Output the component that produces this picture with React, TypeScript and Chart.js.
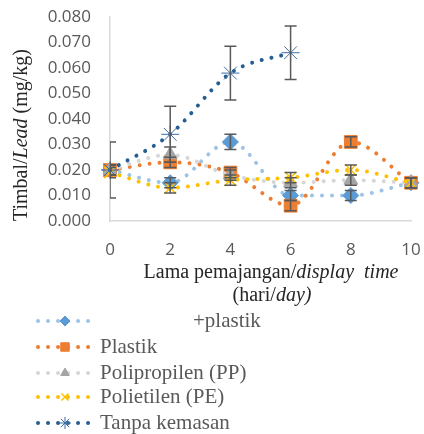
import React, { useEffect, useRef } from 'react';
import { Chart, registerables } from 'chart.js';
import * as helpers from 'chart.js/helpers';

Chart.register(...registerables);

// ---- data ----
const days = [0, 2, 4, 6, 8, 10];
const seriesNames = ['+plastik', 'Plastik', 'Polipropilen (PP)', 'Polietilen (PE)', 'Tanpa kemasan'];
const plastikPlus = [0.020, 0.015, 0.031, 0.010, 0.010, 0.015];
const plastik = [0.020, 0.023, 0.019, 0.006, 0.031, 0.015];
const polipropilen = [0.020, 0.026, 0.018, 0.015, 0.016, 0.015];
const polietilen = [0.019, 0.013, 0.016, 0.017, 0.020, 0.015];
const tanpaKemasan = [0.020, 0.034, 0.058, 0.066];
const plastikPlusErr = [0.002, 0.002, 0.003, 0.002, 0.002, 0.002];
const plastikErr = [0.002, 0.002, 0.002, 0.002, 0.002, 0.002];
const polipropilenErr = [0.002, 0.003, 0.002, 0.002, 0.002, 0.002];
const polietilenErr = [0.002, 0.002, 0.002, 0.002, 0.002, 0.002];
const tanpaKemasanErr = [0.011, 0.011, 0.0105, 0.0105];
const yTitle: [string, boolean][] = [['Timbal/', false], ['Lead', true], [' (mg/kg)', false]];
const xTitle1: [string, boolean][] = [['Lama pemajangan/', false], ['display  time', true]];
const xTitle2: [string, boolean][] = [['(hari/', false], ['day)', true]];

const values = [plastikPlus, plastik, polipropilen, polietilen, tanpaKemasan];
const errors = [plastikPlusErr, plastikErr, polipropilenErr, polietilenErr, tanpaKemasanErr];

const styles = [
  { line: '#9DC3E6', fill: '#5B9BD5', border: '#5B9BD5', point: 'rectRot', r: 8, bw: 1 },
  { line: '#ED7D31', fill: '#ED7D31', border: '#ED7D31', point: 'rect', r: 9, bw: 1 },
  { line: '#D6D6D6', fill: '#A5A5A5', border: '#A5A5A5', point: 'triangle', r: 8, bw: 1 },
  { line: '#FFC000', fill: 'rgba(0,0,0,0)', border: '#FFC000', point: 'crossRot', r: 8, bw: 1.5 },
  { line: '#255E91', fill: 'rgba(0,0,0,0)', border: '#3B6EA5', point: 'star', r: 9, bw: 1 },
];

const SERIF = '"Liberation Serif", "Times New Roman", serif';
const SANS = '"Open Sans", "Liberation Sans", sans-serif';

function drawRich(ctx: CanvasRenderingContext2D, segs: [string, boolean][], cx: number, cy: number, size: number, color: string) {
  ctx.save();
  ctx.textBaseline = 'middle';
  ctx.textAlign = 'left';
  ctx.fillStyle = color;
  let total = 0;
  const widths = segs.map(([t, it]) => {
    ctx.font = `${it ? 'italic ' : ''}${size}px ${SERIF}`;
    const w = ctx.measureText(t).width;
    total += w;
    return w;
  });
  let x = cx - total / 2;
  segs.forEach(([t, it], i) => {
    ctx.font = `${it ? 'italic ' : ''}${size}px ${SERIF}`;
    ctx.fillText(t, x, cy);
    x += widths[i];
  });
  ctx.restore();
}

const decorPlugin = {
  id: 'decor',
  afterDatasetsDraw(chart: any) {
    const ctx: CanvasRenderingContext2D = chart.ctx;
    const ys = chart.scales.y;
    const area = chart.chartArea;
    ctx.save();
    ctx.beginPath();
    ctx.rect(area.left, 0, area.right - area.left + 20, chart.height);
    ctx.clip();
    ctx.strokeStyle = '#595959';
    ctx.lineWidth = 1.5;
    errors.forEach((errs, i) => {
      const meta = chart.getDatasetMeta(i);
      errs.forEach((e, j) => {
        const el = meta.data[j];
        if (!el) return;
        const v = values[i][j];
        const x = el.x;
        const y1 = ys.getPixelForValue(v + e);
        const y2 = ys.getPixelForValue(v - e);
        ctx.beginPath();
        ctx.moveTo(x, y1);
        ctx.lineTo(x, y2);
        ctx.moveTo(x - 6, y1);
        ctx.lineTo(x + 6, y1);
        ctx.moveTo(x - 6, y2);
        ctx.lineTo(x + 6, y2);
        ctx.stroke();
      });
    });
    ctx.restore();
  },
  afterDraw(chart: any) {
    const ctx: CanvasRenderingContext2D = chart.ctx;
    // Y title
    ctx.save();
    ctx.translate(22, 135);
    ctx.rotate(-Math.PI / 2);
    drawRich(ctx, yTitle, 0, 0, 20, '#262626');
    ctx.restore();
    // X title
    drawRich(ctx, xTitle1, 271, 273, 20, '#262626');
    drawRich(ctx, xTitle2, 272, 296, 20, '#262626');
    // legend
    const rows = [321, 347, 373, 397, 423];
    seriesNames.forEach((name, i) => {
      const y = rows[i];
      const s = styles[i];
      ctx.save();
      ctx.strokeStyle = s.line;
      ctx.lineWidth = 4;
      ctx.lineCap = 'round';
      ctx.setLineDash([0.01, 10]);
      ctx.beginPath();
      ctx.moveTo(38, y);
      ctx.lineTo(92, y);
      ctx.stroke();
      ctx.restore();
      ctx.save();
      ctx.fillStyle = s.fill;
      ctx.strokeStyle = s.border;
      ctx.lineWidth = s.bw;
      helpers.drawPoint(ctx, { pointStyle: s.point as any, radius: s.r - 3, rotation: 0, borderWidth: s.bw }, 65, y);
      ctx.restore();
      ctx.save();
      ctx.font = `21px ${SERIF}`;
      ctx.fillStyle = '#595959';
      ctx.textBaseline = 'middle';
      ctx.fillText(name, i === 0 ? 193 : 100, y);
      ctx.restore();
    });
  },
};

export default function App() {
  const ref = useRef<HTMLCanvasElement>(null);
  useEffect(() => {
    if (!ref.current) return;
    const datasets = values.map((vals, i) => {
      const s = styles[i];
      return {
        label: seriesNames[i],
        data: vals.map((v, j) => ({ x: days[j], y: v })),
        borderColor: s.line,
        borderWidth: 4,
        borderDash: [0.01, 10],
        borderCapStyle: 'round' as const,
        cubicInterpolationMode: 'monotone' as const,
        pointStyle: s.point,
        pointRadius: s.r,
        pointBackgroundColor: s.fill,
        pointBorderColor: s.border,
        pointBorderWidth: s.bw,
        fill: false,
        clip: false as any,
        order: 5 - i,
      };
    });
    const chart = new Chart(ref.current, {
      type: 'line',
      data: { datasets },
      options: {
        responsive: false,
        animation: false,
        layout: { padding: { top: 17, right: 13, left: 0, bottom: 0 } },
        plugins: { legend: { display: false }, tooltip: { enabled: false } },
        scales: {
          x: {
            type: 'linear',
            min: 0,
            max: 10,
            ticks: { stepSize: 2, color: '#595959', font: { family: SANS, size: 17 }, padding: 19 },
            grid: { display: false, drawTicks: false },
            border: { display: true, color: '#D9D9D9', width: 1.5 },
            afterFit: (s: any) => { s.height = 213; s.paddingLeft = 0; s.paddingRight = 0; },
          },
          y: {
            min: 0,
            max: 0.08,
            ticks: {
              stepSize: 0.01,
              color: '#595959',
              font: { family: SANS, size: 17 },
              padding: 19,
              callback: (v: any) => Number(v).toFixed(3),
            },
            grid: { display: false, drawTicks: false },
            border: { display: true, color: '#D9D9D9', width: 1.5 },
            afterFit: (s: any) => { s.width = 110; s.paddingTop = 0; s.paddingBottom = 0; },
          },
        },
      } as any,
      plugins: [decorPlugin],
    });
    return () => chart.destroy();
  }, []);
  return (
    <div style={{ position: 'absolute', left: 0, top: 0, width: 424, height: 434, background: '#fff' }}>
      <canvas ref={ref} width={424} height={434} />
    </div>
  );
}
